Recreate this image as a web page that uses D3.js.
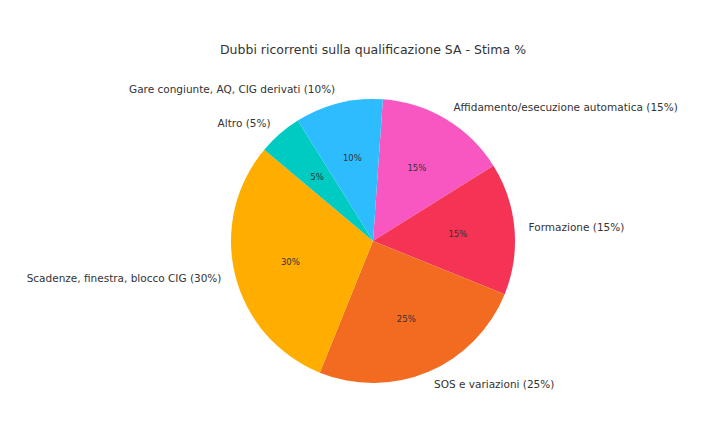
<!DOCTYPE html>
<html><head><meta charset="utf-8">
<script src="https://cdn.jsdelivr.net/npm/d3@7"></script>
<style>body{margin:0;background:#fff}</style></head>
<body><svg id="c" width="716" height="445"></svg>
<script>
const categories = ["Affidamento/esecuzione automatica","Formazione","SOS e variazioni","Scadenze, finestra, blocco CIG","Altro","Gare congiunte, AQ, CIG derivati"];
const values = [15,15,25,30,5,10];
const colors = ["#F857C1","#F43355","#F26B21","#FFAE00","#00CBC2","#2DBDFF"];
const title = "Dubbi ricorrenti sulla qualificazione SA - Stima %";

const svg = d3.select("#c");
const cx = 373, cy = 241, r = 142;
const font = "DejaVu Sans, sans-serif";
svg.append("text").attr("x", cx).attr("y", 54).attr("text-anchor","middle")
  .attr("font-family",font).attr("font-size",12.5).attr("fill","#333").text(title);
const off = 4*Math.PI/180;
const pie = d3.pie().sort(null).value(d=>d).startAngle(off).endAngle(2*Math.PI+off);
const arcs = pie(values);
const arc = d3.arc().innerRadius(0).outerRadius(r);
const g = svg.append("g").attr("transform",`translate(${cx},${cy})`);
g.selectAll("path").data(arcs).join("path").attr("d",arc).attr("fill",(d,i)=>colors[i]);
arcs.forEach((d,i)=>{
  const a=(d.startAngle+d.endAngle)/2;
  const sx=Math.sin(a), sy=-Math.cos(a);
  g.append("text").attr("x",sx*r*0.6).attr("y",sy*r*0.6).attr("dy","0.35em")
   .attr("text-anchor","middle").attr("font-family",font).attr("font-size",8.5).attr("fill","#333")
   .text(values[i]+"%");
  g.append("text").attr("x",sx*r*1.1).attr("y",sy*r*1.1).attr("dy","0.35em")
   .attr("text-anchor",sx>0?"start":"end").attr("font-family",font).attr("font-size",10.5).attr("fill","#333")
   .text(`${categories[i]} (${values[i]}%)`);
});
</script></body></html>
